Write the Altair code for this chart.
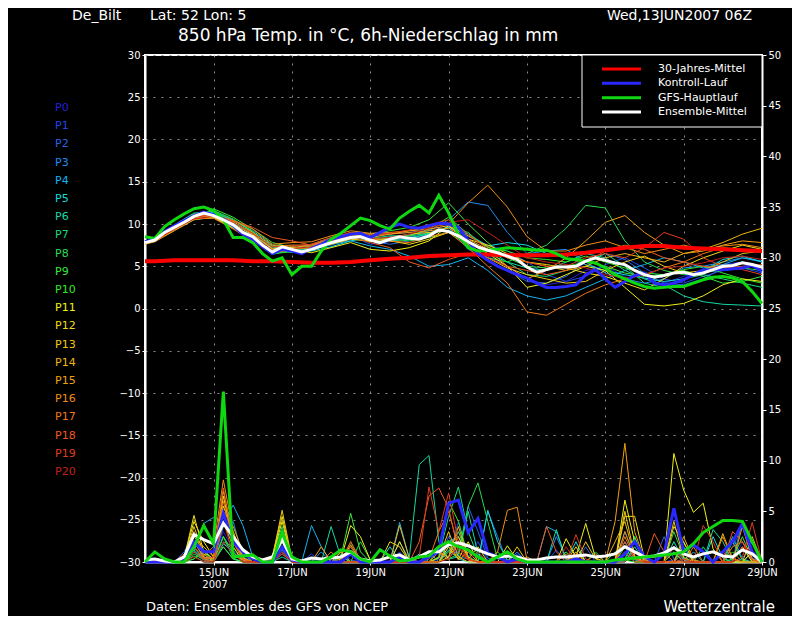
import altair as alt
import pandas as pd

FONT = "DejaVu Sans"

# ---------------- time axes ----------------
times6 = pd.date_range("2007-06-13 06:00", periods=64, freq="6h")
times12 = times6[:1].append(pd.date_range("2007-06-13 12:00", periods=32, freq="12h"))
t6 = [t.strftime("%Y-%m-%dT%H:%M:%SZ") for t in times6]
t12 = [t.strftime("%Y-%m-%dT%H:%M:%SZ") for t in times12]

names = [f"P{i}" for i in range(21)]
colors = ["#2020d8", "#1e46e6", "#2864e6", "#1e8cf0", "#14b4f0", "#14dcdc", "#14d8a0",
          "#14dc78", "#28dc50", "#3ce63c", "#32e628", "#f0f014", "#f0dc14", "#f0c814",
          "#f0b414", "#f0a014", "#f08c14", "#f07814", "#f05a1e", "#e03c1e", "#c0201e"]

# ---------------- 850 hPa temperature, members (12-hourly) ----------------
member_temp = {
    "P0": [7.9,8.3,9.8,11.2,11.3,10.2,8.0,6.5,7.2,7.4,8.2,8.9,8.5,8.8,9.0,9.4,9.8,8.0,6.2,5.0,3.5,2.8,3.2,4.5,5.0,3.8,2.5,3.0,3.8,4.5,5.2,5.5,4.8],
    "P1": [7.7,8.0,9.5,10.8,11.2,10.0,8.8,7.0,6.8,7.2,8.0,8.6,7.6,7.9,8.5,9.0,9.5,8.5,7.5,6.8,5.5,4.0,3.2,3.8,5.2,6.0,4.8,3.5,3.0,3.8,4.5,4.8,4.2],
    "P2": [7.8,8.2,9.4,10.6,10.8,9.6,8.2,6.8,7.3,7.0,7.5,8.2,8.0,7.6,8.0,8.8,9.6,7.0,5.8,4.5,3.2,3.0,3.8,5.5,6.5,5.8,4.2,3.0,2.8,3.5,4.8,5.5,5.0],
    "P3": [7.8,8.1,9.7,11.0,10.9,9.8,8.6,6.9,7.1,7.6,8.3,8.7,8.2,8.5,8.7,9.2,10.5,12.6,12.2,9.0,6.5,6.8,7.0,5.5,4.2,3.5,3.0,3.5,4.8,5.0,5.5,6.0,5.5],
    "P4": [7.9,8.2,9.5,10.7,11.1,10.1,8.9,7.2,6.6,6.9,7.6,8.0,7.4,7.0,6.2,5.0,5.2,6.0,4.5,2.5,1.5,1.0,1.5,2.5,3.5,4.5,5.2,6.0,5.5,4.8,5.2,6.0,5.6],
    "P5": [7.8,8.0,9.6,11.0,11.4,10.4,9.2,7.5,7.0,6.8,7.3,8.0,8.4,8.0,8.2,8.9,9.6,8.8,7.4,7.8,7.5,6.5,6.0,5.2,4.5,4.0,3.6,3.2,3.5,4.5,5.8,6.2,5.5],
    "P6": [7.7,8.0,9.3,10.5,10.8,9.6,8.2,6.4,6.9,7.0,7.7,8.3,8.0,8.3,8.4,8.8,9.3,8.0,6.5,5.5,4.8,4.5,5.5,6.5,6.0,4.5,3.5,2.8,1.5,0.8,0.5,0.4,0.3],
    "P7": [7.9,8.3,9.9,11.3,11.5,10.5,9.0,7.3,6.8,7.3,7.9,8.5,8.3,8.6,8.6,8.9,9.7,9.0,7.0,5.5,4.0,3.8,4.5,5.5,6.5,5.0,3.0,2.5,3.5,4.0,3.5,3.0,2.5],
    "P8": [7.8,8.2,9.6,11.1,11.6,10.6,9.1,7.0,7.0,7.4,8.1,8.8,8.6,8.2,8.0,8.4,9.0,7.5,6.0,5.5,6.5,7.5,9.5,12.2,11.9,8.0,5.5,4.5,4.0,4.3,4.5,4.8,4.5],
    "P9": [7.8,8.0,9.5,10.8,11.8,10.8,9.4,7.8,7.2,7.1,7.8,8.6,8.8,9.2,9.6,10.5,12.5,10.0,7.8,6.0,5.0,4.8,5.0,5.5,5.0,4.2,3.8,4.0,4.5,3.8,3.0,3.2,3.8],
    "P10": [7.9,8.2,9.7,11.2,11.2,10.0,8.3,6.5,6.7,7.0,7.8,8.3,7.9,8.2,8.6,9.4,10.8,8.8,7.2,6.8,6.0,5.8,5.5,6.2,5.5,4.8,4.2,4.0,4.6,5.0,4.2,3.5,3.0],
    "P11": [7.7,8.0,9.4,10.6,10.7,9.5,8.1,6.6,7.0,6.6,7.2,7.8,7.0,6.8,7.2,8.0,9.8,7.8,6.5,5.0,2.5,3.0,4.0,5.0,4.5,2.5,0.5,0.3,0.6,1.5,2.8,3.5,3.2],
    "P12": [7.8,8.1,9.6,10.9,10.8,9.7,8.4,6.8,7.2,7.3,8.0,8.6,8.4,8.0,7.6,8.2,9.0,8.2,7.5,6.5,5.5,5.2,4.8,4.2,3.8,3.0,2.2,3.5,5.0,6.0,6.8,7.5,7.0],
    "P13": [7.9,8.3,9.8,11.0,11.0,10.0,8.7,7.1,7.3,7.2,7.6,8.2,8.0,8.4,8.8,9.0,9.2,7.6,6.0,4.8,4.0,3.5,3.0,3.2,4.5,5.5,6.2,5.0,4.2,4.5,5.5,6.5,6.8],
    "P14": [7.6,7.9,9.2,10.5,10.9,10.2,9.0,7.4,7.5,7.5,8.2,9.0,8.8,8.8,9.2,9.4,9.8,8.6,7.3,6.0,5.5,5.0,4.5,5.0,6.0,6.5,6.0,5.5,6.5,7.0,7.8,8.8,9.5],
    "P15": [7.8,8.0,9.4,10.7,11.0,10.3,8.8,7.0,7.1,7.6,8.4,8.8,8.4,8.8,9.0,9.2,9.5,8.2,7.0,5.0,3.5,4.5,6.0,8.0,10.2,11.0,9.0,7.5,6.5,6.8,7.5,8.0,7.8],
    "P16": [7.8,8.1,9.5,10.8,11.2,10.4,9.4,7.6,7.8,7.9,8.6,9.2,8.9,9.0,9.2,9.6,10.0,12.5,14.6,12.0,8.5,6.8,6.8,7.5,8.0,7.2,6.5,7.0,7.5,7.0,7.4,7.6,7.2],
    "P17": [7.7,7.9,9.3,10.6,10.7,9.4,8.0,6.6,7.0,7.2,8.0,8.5,8.2,8.0,7.8,8.5,9.0,7.2,5.0,3.0,-0.4,-0.8,0.5,1.8,2.8,3.5,4.0,4.8,5.5,6.5,7.2,7.0,6.6],
    "P18": [7.9,8.2,9.6,10.9,11.0,10.4,9.6,8.4,8.0,7.5,8.0,8.5,7.8,7.2,5.5,4.8,5.8,6.5,6.0,5.0,4.5,4.0,4.5,5.5,6.8,7.5,7.0,6.0,5.5,5.0,4.8,5.0,5.2],
    "P19": [7.8,8.1,9.5,10.8,11.1,10.2,8.9,7.3,7.4,7.6,8.4,9.0,8.7,8.9,9.3,9.9,10.5,8.8,7.0,6.0,5.5,5.0,5.0,6.0,6.5,6.0,7.2,9.0,8.2,6.0,5.0,4.6,4.0],
    "P20": [7.8,8.0,9.4,10.6,10.9,9.9,8.5,6.9,7.1,7.3,8.0,8.6,8.3,8.4,8.8,9.5,10.2,10.5,9.0,7.5,6.0,5.5,5.2,4.8,4.0,3.6,4.0,4.8,5.0,5.4,6.0,6.2,5.8],
}

# ---------------- 6h precipitation, members (6-hourly) ----------------
member_prec = {
    "P0": [0,0,0,0,0,1.5,0,0,3.0,1.2,0,0,0,0,1.0,0,
           0,0,0,0,0,0.8,0,0,0,0,0,0,0,0,0,1.5,
           3.0,1.0,0,0,0,0,0,0,0,0,0,0,0.5,0,0,0,
           0,1.5,0,0,0,0,2.0,0,0,0,0,0,0,2.0,0,0],
    "P1": [0,0,0,0,0.2,2.5,1.0,0.3,4.5,2.0,0.3,0,0,0.2,1.5,0,
           0,0.8,0,0,0,0,0,0,0,0,1.0,0,0,0,1.0,0.3,
           4.0,0.5,2.0,0.2,0,0,0.8,0,0,0,1.2,0,0,0,0,0,
           0,2.0,0.3,0,0,0,0.2,1.5,0,0,0,0,1.5,3.5,0.4,0],
    "P2": [0,0,0,0,1.0,3.0,0.5,0.2,2.5,0.6,0.8,0,0,0,2.0,0.2,
           0,0,0,0,1.0,0.2,0,0,0,0,0.5,0,0,0,0.3,2.5,
           0.8,5.5,3.0,0.4,0,0,0,0,0,0,0,0,0,1.5,0,0,
           0,0.2,1.0,0,0,2.5,0.3,0,0,0,0,0,0,0.3,2.0,0],
    "P3": [0,0,0,0,0.3,2.0,0.4,0,3.5,4.0,0.5,0,0,0,1.2,0,
           0,0,1.0,0,0,0,0,0,0,0,2.0,0.2,0,1.0,0,2.0,
           0.5,0.3,0,5.0,2.5,0,1.0,0,0,0,2.5,0.4,0,0,0,0,
           0,3.0,0.5,0,0,0,1.5,0.2,0,0,0,1.0,0.2,4.0,0.8,0],
    "P4": [0,0,0,0,0,1.0,3.8,4.4,4.0,5.6,3.6,0.5,0,0,0.8,0,
           0,3.6,1.5,0,0,0,0,0,0,0,3.9,0.3,0,0,0,2.0,
           2.5,0.5,0,0,0,0,0,0,0,3.5,3.0,0.3,0,0,0,0,
           0,2.0,0.2,0,0,0,0,0,1.0,0,0,0,2.5,0.3,0,0],
    "P5": [0,0,0,0,0,1.0,0.3,0,1.8,1.0,0,0,0,0.3,2.5,0,
           0,0,0,0,0.6,0,0,0,0,1.5,0.2,0,0.8,0,0,1.2,
           0.3,0,0,5.1,2.0,0.2,0,0,0,0,0,0,2.0,0,0,0,
           0,0,1.5,0,0,0,0,1.5,0,0,2.5,0.4,0,0,1.0,0],
    "P6": [0,0,0,0,0,0.3,1.2,0.2,1.5,0.3,0,0,0,0,0.5,0,
           0,0,0,3.5,0.5,0,0,0,0,0,0,0.5,9.6,10.5,2.0,0.3,
           0.5,5.0,0.8,0,0,0,0,0,0,0,3.2,0.2,0,0,0,0,
           0,0,2.5,0,0,0,1.0,0,0,0,3.2,2.0,0,0,0,0],
    "P7": [0,0,0,0,0,1.2,0.3,0,2.5,0.4,0,0,0,0.5,3.5,0.2,
           0,0,0,0,0,1.5,0,0,0,0,0,0,0,0,0.5,4.5,
           7.4,3.0,0.5,0,0,0,0,0,0,0,0,0,0,0,1.0,0,
           0,1.0,0,0,0,0,2.0,0.3,0,1.5,0,0,0,1.5,0,0],
    "P8": [0,0,0,0,0,0.8,0.2,0,2.0,1.5,0.2,0,0,0,1.0,0,
           0,0,0,0,0,0,2.0,0.2,0,0,0,0,0,0,1.5,0.3,
           0.8,5.5,7.8,4.0,0.3,1.0,0,0,0,0,0,0,0,0,0,0,
           0,0.3,2.5,0,0,0,3.0,0.5,0,0,0,0,2.0,0.2,0,0],
    "P9": [0,0,0,0,0,0.6,0,0,1.5,0.3,0,0,0,0,1.5,0,
           0,0,0,0,0.5,4.8,1.0,0,0,0,0,0,0,0,0,1.0,
           3.0,0.4,0,0,0,0,0,0,0,0,0,1.0,0,0,0,0,
           0,1.5,0,0,0,0,1.0,0,0,0,0,0,0.3,2.5,0.2,0],
    "P10": [0,0,0,0,0,0.3,1.0,0,2.5,1.0,0,0,0,0,2.0,0.3,
            0,0,0,0,0,2.0,0.2,0,0,0,0,0,0,0,0.5,6.0,
            4.0,0.5,0,0,1.0,0,0,0,0,0,0,0,1.0,0,0,0,
            1.0,0.2,0,0,0,0,0,2.0,0,0,0,0,1.0,0,0,0],
    "P11": [0,0,0,0,0.5,4.0,2.0,0.5,5.5,3.0,0.4,0,0,0.5,4.0,0.3,
            0,0,0,0,0.3,3.6,2.5,0.2,0,0,2.0,0,0,0,0,1.5,
            0.3,2.0,0,0,0,1.6,0.2,0,0,0,0,2.3,0.5,3.8,0.4,0,
            0,6.1,2.0,0,0,0,10.7,7.1,4.9,5.8,1.3,0,0,0,1.0,0],
    "P12": [0,0,0,0,0.4,4.6,1.0,0.3,6.5,2.0,0.2,0,0,0.6,4.5,0.2,
            0,0,0,0,1.0,0,0,0,0,2.0,1.5,0,0,0,0,0.5,
            2.5,0.3,1.5,0,0,0,0,0,0,0,0,0,1.5,0,0,0,
            0,4.5,4.5,0.3,0,0,3.5,2.0,0,0,0,0,0,1.5,0,0],
    "P13": [0,0,0,0,0.3,3.5,0.8,0,4.0,1.5,0,0,0,0.4,5.1,0.3,
            0,0,0,0,0,1.0,0,0,0,0,0,0,0,0,0.4,3.0,
            0.5,0,0,0,0,0,1.5,0,0,0,0,0,0,2.0,0.3,0,
            0,5.0,0.6,0,0,0,4.0,0.4,0,0,0,0,0,0,2.5,0],
    "P14": [0,0,0,0,0,2.5,1.5,0.5,7.0,2.5,0.3,0,0,0,3.0,0,
            0,0,0,0,0,1.7,0,0,0,0,3.6,0.3,0,0,1.0,0.5,
            3.5,0.4,0,0,0,0,0,0,0,0,0,0,0,0,0.8,0,
            2.0,4.0,0.5,0,0,0,0,2.5,0.2,0,0,2.8,0.3,0,0,0],
    "P15": [0,0,0,0,0.2,2.0,0.5,0.3,5.0,3.5,1.0,0,0,0.3,2.2,0,
            0,0,1.5,0,0,0,0,0,0,0,0,0,0,0,0,2.0,
            0.2,1.0,0,0,0,0,0,0.5,0,0,0,0,1.0,0,0,0,
            4.0,11.7,3.0,0.2,0,1.0,0,0,0,0,0,0,0,3.5,0.3,0],
    "P16": [0,0,0,0,0.5,3.0,0.6,1.5,8.1,3.0,0.3,0,0,0,2.5,0.2,
            0,0,0,0,1.0,0,0,0,0,0,0,0,0,0,1.0,0.2,
            2.0,0.3,0,0,1.0,5.1,5.4,0.2,0,0,0,0.8,0,0,0,0,
            0,3.0,0.4,0,0,0,0,0,1.5,0,0,2.5,0.3,0,0,0],
    "P17": [0,0,0,0,0,1.5,0.4,0,6.0,2.0,0.2,0,0,0,1.0,0,
            0,0,0,1.0,0,0,0,0,0,0,0,0,0,0.3,3.0,5.0,
            1.5,0.2,0,0,0,0,0,0,0,0,0,0,0.8,0,0,0,
            0,2.5,0.3,0,0,0,0,1.0,0,0,0,0,1.5,2.0,0.2,0],
    "P18": [0,0,0,0,0.8,1.5,0.3,0.5,7.3,2.0,0.3,0,0,0,1.5,0,
            0,0,0,0,0,2.0,0.2,0,0,0,0,0,2.0,6.5,7.3,5.3,
            1.0,0.2,0,0,0,0,0,0,0,3.5,1.0,0,0,0,0,0,
            0,2.0,0.3,0,2.8,1.0,0,0,0,0,0,0,3.0,2.0,0.2,0],
    "P19": [0,0,0,0,0,1.0,0.2,0,4.0,0.8,0,0,0,0,0.8,0,
            0,0,0,0,0,1.5,0,0,0,0,0,0,0.5,7.4,3.0,6.8,
            2.0,0.3,0,0,0,0,0,0,0,0,0,0,2.7,0.3,0,0,
            0,1.0,0,0,0,0,0,0.3,0,3.6,2.0,0,0,0.5,3.9,0],
    "P20": [0,0,0,0,0,0.5,0,0,2.0,0.8,0,0,0,0,1.0,0,
            0,0,0,0,0,0,0,0,0,0,0,0,0,0,0,0.3,
            1.5,0.2,1.0,0,0,0,0,0,0,0,0,1.5,0,0,0,0,
            0,0,1.0,0,0,0,1.5,0,0,0,0,0,0,1.5,1.0,0],
}

# ---------------- highlighted series ----------------
clim_temp = [5.6,5.6,5.7,5.7,5.7,5.7,5.6,5.6,5.5,5.4,5.4,5.5,5.7,5.9,6.0,6.2,6.3,
             6.4,6.4,6.3,6.3,6.3,6.4,6.6,6.9,7.2,7.4,7.4,7.2,7.1,7.0,6.9,6.8]

ctrl_temp = [7.9,8.2,9.1,9.8,10.4,11.0,11.4,11.1,10.6,9.8,8.8,8.2,7.3,6.5,7.0,6.8,
             6.5,7.1,7.6,8.2,8.5,8.8,8.9,8.4,9.0,9.6,10.0,9.6,9.5,9.8,10.1,10.0,
             9.6,8.0,6.5,5.7,5.0,4.5,4.0,3.6,3.0,2.5,2.5,2.6,2.8,4.0,4.6,3.5,
             2.5,3.2,3.9,4.2,3.0,2.8,3.0,3.4,4.0,4.6,4.6,4.6,4.7,4.8,5.1,4.4]

gfs_temp = [8.5,8.3,9.7,10.5,11.2,11.8,12.0,11.6,10.5,8.4,8.4,7.8,6.5,5.6,6.0,4.0,
            5.0,5.0,6.8,8.2,8.9,9.8,10.7,10.4,9.8,9.4,10.7,11.5,12.2,11.3,13.4,11.3,
            8.8,7.2,6.8,6.9,7.0,7.2,7.1,7.0,6.9,6.9,6.5,5.9,5.8,5.6,5.4,4.8,
            4.0,3.5,3.0,2.6,2.4,2.5,2.6,2.6,3.0,3.4,3.7,3.8,3.6,3.2,2.0,0.6]

mean_temp = [7.8,8.1,9.0,9.6,10.2,10.9,11.3,11.0,10.5,9.9,9.0,8.5,7.5,6.7,7.3,7.0,
             6.7,7.0,7.4,7.8,8.1,8.4,8.5,8.1,7.8,8.2,8.5,8.3,8.2,8.6,9.3,9.1,
             8.6,7.9,7.3,6.9,6.6,6.2,5.8,4.9,4.3,4.6,4.9,4.9,5.0,5.6,6.0,5.7,
             5.4,5.2,4.5,4.0,3.7,3.9,4.2,4.3,4.0,4.2,4.6,5.0,5.1,5.4,5.2,4.9]

ctrl_prec = [0,0,0,0,0.3,2.0,1.0,1.0,4.8,2.0,1.0,0.3,0,0,1.5,0.2,
             0,0,0,0,0,0.8,0,0,0,0,0.5,0,0,0.5,1.0,5.8,
             6.1,2.9,4.3,0.9,0.5,0,0.3,0,0,0,0,0,0.3,0,0,0,
             0,0.8,2.0,0.5,0,0.8,5.3,1.0,1.7,1.0,0,1.0,2.0,3.8,1.0,0]

gfs_prec = [0,1.0,0.3,0,0,1.5,3.6,1.8,16.8,0.5,0.6,0.7,0,0,2.9,0.5,
            0,0,0,0.5,1.2,1.0,0.3,0,1.2,0.6,0.1,0.2,0.5,0.6,1.5,2.0,
            1.5,1.2,0.5,0,0.5,1.0,0.3,0,0,0,0,0,0,0,0,0,
            0.2,0.3,0.4,0.5,0.6,0.7,0.8,1.0,1.8,2.9,3.5,4.1,4.1,4.0,2.0,0]

mean_prec = [0.2,0.3,0.1,0,0.5,2.7,2.2,1.8,3.8,2.5,1.2,0.5,0.2,0.5,2.2,0.3,
             0.1,0.4,0.3,0.4,0.5,1.0,0.3,0.1,0.2,0.5,0.7,0.2,0.5,1.0,1.0,1.7,
             1.9,1.6,1.2,0.8,0.5,0.6,0.5,0.2,0.2,0.4,0.5,0.5,0.6,0.7,0.5,0.6,
             0.8,1.5,1.0,0.5,0.6,0.9,1.4,0.8,0.5,0.8,1.0,0.6,0.5,1.2,0.8,0]

temp_ticks = list(range(-30, 31, 5))
prec_ticks = list(range(0, 51, 5))
day_ticks = list(range(15, 30, 2))
legend_labels = ["30-Jahres-Mittel", "Kontroll-Lauf", "GFS-Hauptlauf", "Ensemble-Mittel"]
legend_colors = ["#ff0000", "#2828ff", "#10d810", "#ffffff"]

for n in names:
    assert len(member_temp[n]) == len(t12), n
    assert len(member_prec[n]) == len(t6), n
for arr in (ctrl_temp, gfs_temp, mean_temp, ctrl_prec, gfs_prec, mean_prec):
    assert len(arr) == len(t6)
assert len(clim_temp) == len(t12)

# ---------------- data frames ----------------
mt = pd.DataFrame([{"t": t, "m": n, "v": v} for n in names for t, v in zip(t12, member_temp[n])])
mp = pd.DataFrame([{"t": t, "m": n, "v": v} for n in names for t, v in zip(t6, member_prec[n])])
clim_df = pd.DataFrame({"t": t12, "v": clim_temp})
ctrl_t_df = pd.DataFrame({"t": t6, "v": ctrl_temp})
gfs_t_df = pd.DataFrame({"t": t6, "v": gfs_temp})
mean_t_df = pd.DataFrame({"t": t6, "v": mean_temp})
ctrl_p_df = pd.DataFrame({"t": t6, "v": ctrl_prec})
gfs_p_df = pd.DataFrame({"t": t6, "v": gfs_prec})
mean_p_df = pd.DataFrame({"t": t6, "v": mean_prec})

# ---------------- scales & axes ----------------
GRID = "#8c8c8c"
xscale = alt.Scale(type="utc", domain=[
    alt.DateTime(year=2007, month=6, date=13, hours=6, utc=True),
    alt.DateTime(year=2007, month=6, date=29, hours=0, utc=True)])
xaxis = alt.Axis(
    values=[alt.DateTime(year=2007, month=6, date=d, utc=True) for d in day_ticks],
    labelExpr="utcFormat(datum.value, '%d') + upper(utcFormat(datum.value, '%b'))",
    grid=True, gridColor=GRID, gridDash=[2, 6], gridWidth=1,
    domainColor="white", domainWidth=2, tickColor="white", tickSize=3,
    labelColor="white", labelFont=FONT, labelFontSize=10, labelPadding=2,
    labelFlush=False, labelOverlap=False, title=None)
yscale_t = alt.Scale(domain=[-30, 30], nice=False, zero=False)
yaxis_t = alt.Axis(
    values=temp_ticks, grid=True, gridColor=GRID, gridDash=[2, 6], gridWidth=1,
    domainColor="white", domainWidth=2, tickColor="white", tickSize=3,
    labelColor="white", labelFont=FONT, labelFontSize=10, labelPadding=2,
    labelFlush=False, labelOverlap=False, title=None)
yscale_p = alt.Scale(domain=[0, 50], nice=False, zero=False)
yaxis_p = alt.Axis(
    orient="right", values=prec_ticks, grid=False,
    domainColor="white", domainWidth=2, tickColor="white", tickSize=4,
    labelColor="white", labelFont=FONT, labelFontSize=10, labelPadding=2,
    labelFlush=False, labelOverlap=False, title=None)
cscale = alt.Scale(domain=names, range=colors)

X = alt.X("t:T", scale=xscale, axis=xaxis)
YT = alt.Y("v:Q", scale=yscale_t, axis=yaxis_t)
YP = alt.Y("v:Q", scale=yscale_p, axis=yaxis_p)

# ---------------- temperature layers ----------------
t_members = alt.Chart(mt).mark_line(strokeWidth=1).encode(
    x=X, y=YT, color=alt.Color("m:N", scale=cscale, legend=None))
t_clim = alt.Chart(clim_df).mark_line(color="#ff0000", strokeWidth=4).encode(x=X, y=YT)
t_ctrl = alt.Chart(ctrl_t_df).mark_line(color="#2828ff", strokeWidth=3).encode(x=X, y=YT)
t_gfs = alt.Chart(gfs_t_df).mark_line(color="#10d810", strokeWidth=3).encode(x=X, y=YT)
t_mean = alt.Chart(mean_t_df).mark_line(color="#ffffff", strokeWidth=3).encode(x=X, y=YT)
temp_layer = alt.layer(t_members, t_clim, t_ctrl, t_gfs, t_mean)

# ---------------- precipitation layers ----------------
p_members = alt.Chart(mp).mark_line(strokeWidth=1).encode(
    x=X, y=YP, color=alt.Color("m:N", scale=cscale, legend=None))
p_ctrl = alt.Chart(ctrl_p_df).mark_line(color="#2828ff", strokeWidth=3).encode(x=X, y=YP)
p_mean = alt.Chart(mean_p_df).mark_line(color="#ffffff", strokeWidth=3).encode(x=X, y=YP)
p_gfs = alt.Chart(gfs_p_df).mark_line(color="#10d810", strokeWidth=3).encode(x=X, y=YP)
prec_layer = alt.layer(p_members, p_ctrl, p_mean, p_gfs)

# ---------------- member labels on the left ----------------
lab_df = pd.DataFrame({"m": names})
member_labels = alt.Chart(lab_df).mark_text(
    align="left", baseline="middle", font=FONT, fontSize=11).encode(
    x=alt.value(-90),
    y=alt.Y("m:N", sort=names,
            scale=alt.Scale(type="point", range=[53, 417], padding=0), axis=None),
    text="m:N",
    color=alt.Color("m:N", scale=cscale, legend=None))

# ---------------- legend box ----------------
one = pd.DataFrame({"a": [0]})
box = alt.Chart(one).mark_rect(fill="black", stroke="white", strokeWidth=1).encode(
    x=alt.value(437), x2=alt.value(617), y=alt.value(0), y2=alt.value(72))
leg_df = pd.DataFrame({"label": legend_labels, "c": legend_colors})
leg_y = alt.Y("label:N", sort=legend_labels,
              scale=alt.Scale(type="point", range=[14, 57], padding=0), axis=None)
leg_rules = alt.Chart(leg_df).mark_rule(strokeWidth=3).encode(
    x=alt.value(457), x2=alt.value(496), y=leg_y, stroke=alt.Stroke("c:N", scale=None))
leg_text = alt.Chart(leg_df).mark_text(
    align="left", baseline="middle", font=FONT, fontSize=11, color="white").encode(
    x=alt.value(513), y=leg_y, text="label:N")


def label(txt, x, y, size, align="left", baseline="middle"):
    return alt.Chart(pd.DataFrame({"s": [txt]})).mark_text(
        align=align, baseline=baseline, font=FONT, fontSize=size, color="white").encode(
        x=alt.value(x), y=alt.value(y), text="s:N")


texts = [
    label("De_Bilt", -73, -46, 14, baseline="top"),
    label("Lat: 52 Lon: 5", 5, -46, 14, baseline="top"),
    label("Wed,13JUN2007 06Z", 607, -46, 14, "right", baseline="top"),
    label("850 hPa Temp. in °C, 6h-Niederschlag in mm", 33, -19, 17),
    label("2007", 70, 530, 10, "center"),
    label("Daten: Ensembles des GFS von NCEP", 1, 552, 13),
    label("Wetterzentrale", 630, 552, 15, "right"),
]

chart = alt.layer(
    temp_layer, prec_layer, member_labels, box, leg_rules, leg_text, *texts
).resolve_scale(y="independent").properties(
    width=617, height=507,
    autosize="none",
    padding={"left": 137, "top": 47, "right": 30, "bottom": 54},
    background="black",
).configure_view(stroke="white", strokeWidth=2)

chart.save("out.html", embed_options={"renderer": "svg", "actions": False})
